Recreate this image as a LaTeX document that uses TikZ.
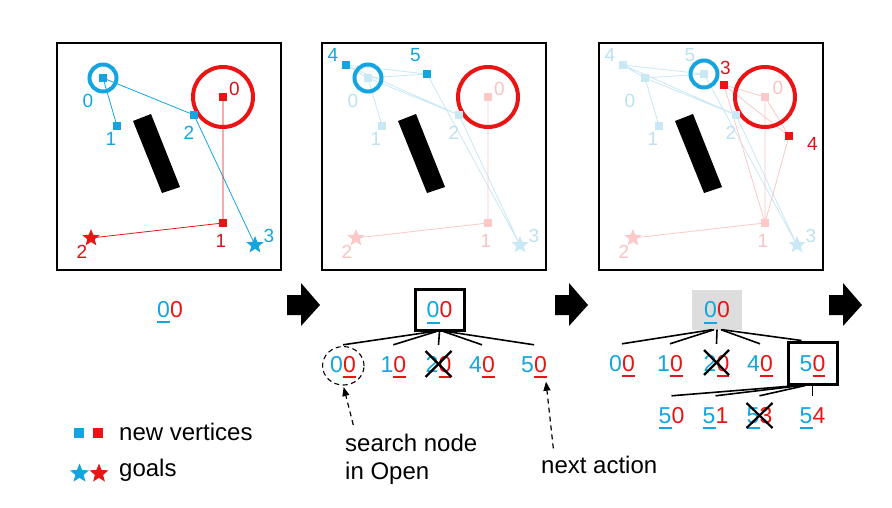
\documentclass[tikz,border=0pt]{standalone}
\usepackage{fontspec}
\setmainfont{Liberation Sans}
\usetikzlibrary{shapes.geometric,arrows.meta}
\definecolor{cblue}{RGB}{20,165,225}
\definecolor{cred}{RGB}{235,20,20}
\definecolor{dred}{RGB}{215,20,25}
\definecolor{fblue}{RGB}{200,232,246}
\definecolor{fred}{RGB}{252,200,200}
\definecolor{flblue}{RGB}{190,225,240}
\definecolor{flred}{RGB}{250,195,195}
\definecolor{boxgray}{RGB}{221,221,221}
\newcommand{\uln}[1]{\setbox0\hbox{#1}\rlap{\rule[-6pt]{\wd0}{1.8pt}}\box0}
\newcommand{\digBU}[1]{\textcolor{cblue}{\uln{#1}}}
\newcommand{\digBP}[1]{\textcolor{cblue}{#1}}
\newcommand{\digRU}[1]{\textcolor{cred}{\uln{#1}}}
\newcommand{\digRP}[1]{\textcolor{cred}{#1}}
\newcommand{\panelbase}[1]{%
 \coordinate (#1b0) at (103,78);
 \coordinate (#1b1) at (117,126);
 \coordinate (#1b2) at (194,115);
 \coordinate (#1b3) at (255,245);
 \coordinate (#1b4) at (81,65);
 \coordinate (#1b5) at (162,74);
 \coordinate (#1r0) at (223,97);
 \coordinate (#1r1) at (223,223);
 \coordinate (#1r2) at (91,238);
 \coordinate (#1r3) at (182,85);
 \coordinate (#1r4) at (247,136);
 \draw[pbox] (57,43) rectangle (281,270);
 \fill[black] (133,121) -- (151,114) -- (180,187) -- (162,193) -- cycle;
}
\newcommand{\blockarrow}[1]{%
 \fill[black] (#1,295) -- (#1+14,295) -- (#1+14,283) -- (#1+33,305) -- (#1+14,326) -- (#1+14,315) -- (#1,315) -- cycle;}
\begin{document}
\begin{tikzpicture}[x=1pt,y=-1pt,
 pbox/.style={draw=black, line width=1.3pt},
 bedge/.style={cblue, line width=0.8pt},
 redge/.style={cred, line width=0.8pt},
 fbedge/.style={fblue, line width=0.8pt},
 fredge/.style={fred, line width=0.8pt},
 bcirc/.style={draw=cblue, line width=4pt},
 rcirc/.style={draw=cred, line width=4pt},
 vsq/.style={rectangle, minimum size=8.5pt, inner sep=0pt},
 gstar/.style={star, star points=5, star point ratio=2.3, minimum size=18pt, inner sep=0pt},
 vlbl/.style={font=\fontsize{19}{19}\selectfont, inner sep=0pt},
 tl/.style={font=\fontsize{23}{23}\selectfont, inner sep=0pt, text height=27pt, text depth=6pt, anchor=base},
 rootbox/.style={font=\fontsize{23}{23}\selectfont, inner sep=0pt, text height=16pt, text depth=0pt, minimum width=49pt, minimum height=41pt},
 tedge/.style={line width=1.6pt},
 xcross/.style={line width=2.2pt},
 darr/.style={dash pattern=on 5pt off 4pt, line width=1.2pt, -{Triangle[length=9pt,width=7pt]}},
 txt/.style={font=\fontsize{24}{24}\selectfont, inner sep=0pt, anchor=base west}]
\fill[white] (0,0) rectangle (892,508);
\useasboundingbox (0,0) rectangle (892,508);

% ---------------- Panel 1
\begin{scope}
\panelbase{A}
\draw[bedge] (Ab0) -- (Ab1) (Ab0) -- (Ab2) (Ab2) -- (Ab3);
\draw[redge] (Ar0) -- (Ar1) (Ar1) -- (Ar2);
\draw[bcirc] (Ab0) circle (13.5pt);
\draw[rcirc] (Ar0) circle (30pt);
\node[vsq, fill=cblue] (Ab0n) at (Ab0) {};
\node[vsq, fill=cblue] (Ab1n) at (Ab1) {};
\node[vsq, fill=cblue] (Ab2n) at (Ab2) {};
\node[gstar, fill=cblue] (Ab3n) at (Ab3) {};
\node[vsq, fill=cred] (Ar0n) at (Ar0) {};
\node[vsq, fill=cred] (Ar1n) at (Ar1) {};
\node[gstar, fill=cred] (Ar2n) at (Ar2) {};
\node[vlbl, text=cblue] (Ab0l) at (88,100.5) {0};
\node[vlbl, text=cblue] (Ab1l) at (111,138.5) {1};
\node[vlbl, text=cblue] (Ab2l) at (189,133) {2};
\node[vlbl, text=cblue] (Ab3l) at (269,235.5) {3};
\node[vlbl, text=dred] (Ar0l) at (234.5,88.5) {0};
\node[vlbl, text=dred] (Ar1l) at (221,240.5) {1};
\node[vlbl, text=dred] (Ar2l) at (82,252) {2};
\end{scope}

% ---------------- Panel 2
\begin{scope}[xshift=265pt]
\panelbase{B}
\draw[fbedge] (Bb0) -- (Bb1) (Bb0) -- (Bb2) (Bb2) -- (Bb3) (Bb0) -- (Bb4) (Bb4) -- (Bb5)
  (Bb0) -- (Bb5) (Bb4) -- (Bb2) (Bb5) -- (Bb3);
\draw[fredge] (Br0) -- (Br1) (Br1) -- (Br2);
\draw[bcirc] (Bb0) circle (13.5pt);
\draw[rcirc] (Br0) circle (30pt);
\node[vsq, fill=fblue] (Bb0n) at (Bb0) {};
\node[vsq, fill=fblue] (Bb1n) at (Bb1) {};
\node[vsq, fill=fblue] (Bb2n) at (Bb2) {};
\node[gstar, fill=fblue] (Bb3n) at (Bb3) {};
\node[vsq, fill=cblue] (Bb4n) at (Bb4) {};
\node[vsq, fill=cblue] (Bb5n) at (Bb5) {};
\node[vsq, fill=fred] (Br0n) at (Br0) {};
\node[vsq, fill=fred] (Br1n) at (Br1) {};
\node[gstar, fill=fred] (Br2n) at (Br2) {};
\node[vlbl, text=flblue] (Bb0l) at (88,100.5) {0};
\node[vlbl, text=flblue] (Bb1l) at (111,138.5) {1};
\node[vlbl, text=flblue] (Bb2l) at (189,133) {2};
\node[vlbl, text=flblue] (Bb3l) at (269,235.5) {3};
\node[vlbl, text=cblue] (Bb4l) at (68,55) {4};
\node[vlbl, text=cblue] (Bb5l) at (150.5,55) {5};
\node[vlbl, text=flred] (Br0l) at (234.5,88.5) {0};
\node[vlbl, text=flred] (Br1l) at (221,240.5) {1};
\node[vlbl, text=flred] (Br2l) at (82,252) {2};
\end{scope}

% ---------------- Panel 3
\begin{scope}[xshift=542pt]
\panelbase{C}
\draw[fbedge] (Cb0) -- (Cb1) (Cb0) -- (Cb2) (Cb2) -- (Cb3) (Cb0) -- (Cb4) (Cb4) -- (Cb5)
  (Cb0) -- (Cb5) (Cb4) -- (Cb2) (Cb5) -- (Cb3);
\draw[fredge] (Cr0) -- (Cr1) (Cr1) -- (Cr2) (Cr3) -- (Cr0) (Cr3) -- (Cr4) (Cr3) -- (Cr1)
  (Cr0) -- (Cr4) (Cr4) -- (Cr1);
\draw[bcirc] (Cb5) circle (13.5pt);
\draw[rcirc] (Cr0) circle (30pt);
\node[vsq, fill=fblue] (Cb0n) at (Cb0) {};
\node[vsq, fill=fblue] (Cb1n) at (Cb1) {};
\node[vsq, fill=fblue] (Cb2n) at (Cb2) {};
\node[gstar, fill=fblue] (Cb3n) at (Cb3) {};
\node[vsq, fill=fblue] (Cb4n) at (Cb4) {};
\node[vsq, fill=fblue] (Cb5n) at (Cb5) {};
\node[vsq, fill=fred] (Cr0n) at (Cr0) {};
\node[vsq, fill=fred] (Cr1n) at (Cr1) {};
\node[gstar, fill=fred] (Cr2n) at (Cr2) {};
\node[vsq, fill=cred] (Cr3n) at (Cr3) {};
\node[vsq, fill=cred] (Cr4n) at (Cr4) {};
\node[vlbl, text=flblue] (Cb0l) at (88,100.5) {0};
\node[vlbl, text=flblue] (Cb1l) at (111,138.5) {1};
\node[vlbl, text=flblue] (Cb2l) at (189,133) {2};
\node[vlbl, text=flblue] (Cb3l) at (269,235.5) {3};
\node[vlbl, text=flblue] (Cb4l) at (68,55) {4};
\node[vlbl, text=flblue] (Cb5l) at (148,55) {5};
\node[vlbl, text=flred] (Cr0l) at (236,88) {0};
\node[vlbl, text=flred] (Cr1l) at (221,240.5) {1};
\node[vlbl, text=flred] (Cr2l) at (82,252) {2};
\node[vlbl, text=dred] (Cr3l) at (183.5,67.7) {3};
\node[vlbl, text=dred] (Cr4l) at (270.5,143.5) {4};
\end{scope}

% ---------------- Block arrows
\blockarrow{287}
\blockarrow{555}
\blockarrow{829}

% ---------------- Tree 1
\node[tl] (Art) at (170,317) {\digBU0\digRP0};

% ---------------- Tree 2
\node[rootbox, draw, line width=3pt] (Brt) at (439.5,309.5) {\digBU0\digRP0};
\node[tl] (B00) at (343,372) {\digBP0\digRU0};
\node[tl] (B10) at (393.3,372) {\digBP1\digRU0};
\node[tl] (B20) at (438.5,372) {\digBP2\digRU0};
\node[tl] (B40) at (482,372) {\digBP4\digRU0};
\node[tl] (B50) at (534,372) {\digBP5\digRU0};
\draw[tedge] ([xshift=-6pt]Brt.south) -- (B00.north);
\draw[tedge] ([xshift=-3pt]Brt.south) -- (B10.north);
\draw[tedge] (Brt.south) -- (B20.north);
\draw[tedge] ([xshift=4pt]Brt.south) -- (B40.north);
\draw[tedge] ([xshift=7pt]Brt.south) -- (B50.north);
\draw[xcross] ([shift={(-13pt,21pt)}]B20.base) -- ([shift={(13pt,-5pt)}]B20.base);
\draw[xcross] ([shift={(13pt,21pt)}]B20.base) -- ([shift={(-13pt,-5pt)}]B20.base);
\node[draw, dash pattern=on 5pt off 3.5pt, line width=1.1pt, ellipse, minimum width=41.5pt, minimum height=38.5pt, inner sep=0pt] (Bring) at (343.3,365.8) {};
\node[txt] (stext1) at (345,451.7) {search node};
\node[txt] (stext2) at (345,479.5) {in Open};
\coordinate (sA) at (353.3,425);
\draw[darr, shorten >=1.5pt] (sA) -- (Bring.south);
\node[txt] (ntext) at (541,473) {next action};
\coordinate (nA) at (553.3,448.3);
\coordinate (nB) at (546,381.7);
\draw[darr] (nA) -- (nB);

% ---------------- Tree 3
\node[rootbox, fill=boxgray, minimum width=50pt, minimum height=40pt] (Crt) at (717,309.5) {\digBU0\digRP0};
\node[tl] (C00) at (622,371) {\digBP0\digRU0};
\node[tl] (C10) at (670,371) {\digBP1\digRU0};
\node[tl] (C20) at (716.5,371) {\digBP2\digRU0};
\node[tl] (C40) at (760,371) {\digBP4\digRU0};
\node[rootbox, draw, line width=3pt, minimum height=42pt] (C50) at (812.5,363) {\digBP5\digRU0};
\draw[tedge] ([xshift=-5pt]Crt.south) -- (C00.north);
\draw[tedge] ([xshift=-3pt]Crt.south) -- (C10.north);
\draw[tedge] (Crt.south) -- (C20.north);
\draw[tedge] ([xshift=4pt]Crt.south) -- (C40.north);
\draw[tedge] ([xshift=5pt]Crt.south) -- ([xshift=-11pt]C50.north);
\draw[xcross] ([shift={(-12.5pt,21pt)}]C20.base) -- ([shift={(12.5pt,-4pt)}]C20.base);
\draw[xcross] ([shift={(12.5pt,21pt)}]C20.base) -- ([shift={(-12.5pt,-4pt)}]C20.base);
\node[tl] (G50) at (671.5,423) {\digBU5\digRP0};
\node[tl] (G51) at (715.5,423) {\digBU5\digRP1};
\node[tl] (G53) at (759.5,423) {\digBU5\digRP3};
\node[tl] (G54) at (812.5,423) {\digBU5\digRP4};
\draw[tedge] ([xshift=-14pt]C50.south) -- (G50.north);
\draw[tedge] ([xshift=-11pt]C50.south) -- (G51.north);
\draw[tedge] ([xshift=-7pt]C50.south) -- (G53.north);
\draw[tedge] (C50.south) -- (G54.north);
\draw[xcross] ([shift={(-13pt,20pt)}]G53.base) -- ([shift={(13pt,-5pt)}]G53.base);
\draw[xcross] ([shift={(13pt,20pt)}]G53.base) -- ([shift={(-13pt,-5pt)}]G53.base);

% ---------------- Legend
\node[vsq, fill=cblue, minimum size=10pt] (Lb) at (79.3,432.5) {};
\node[vsq, fill=cred, minimum size=10pt] (Lr) at (98.3,432.5) {};
\node[txt] (Lt1) at (119,440) {new vertices};
\node[gstar, fill=cblue, minimum size=20pt] (Lbs) at (79.5,473.5) {};
\node[gstar, fill=cred, minimum size=20pt] (Lrs) at (99,473.5) {};
\node[txt] (Lt2) at (119,476.7) {goals};
\end{tikzpicture}
\end{document}
